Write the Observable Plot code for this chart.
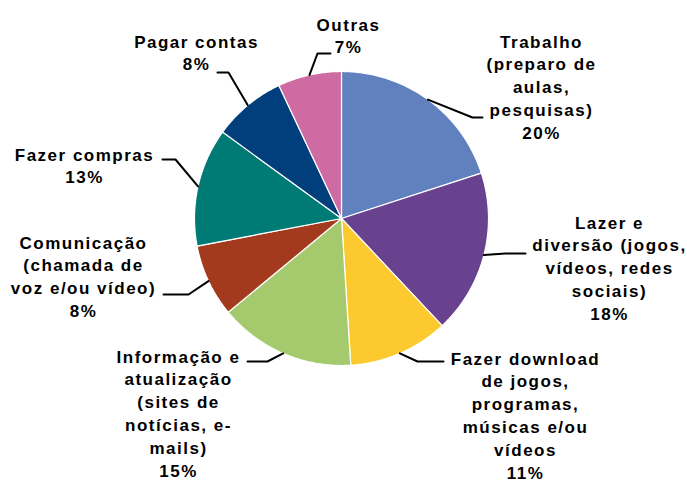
<!DOCTYPE html>
<html><head><meta charset="utf-8">
<script src="https://cdn.jsdelivr.net/npm/d3@7"></script>
<script src="https://cdn.jsdelivr.net/npm/@observablehq/plot@0.6"></script>
<style>html,body{margin:0;padding:0;background:#fff;overflow:hidden}</style>
</head><body><div id="chart"></div>
<script>
// ---- data ----
const categories = ["Trabalho", "Lazer", "Download", "Informação", "Comunicação", "Compras", "Pagar contas", "Outras"];
const values = [20, 18, 11, 15, 8, 13, 8, 7];
const labelNames = [
  "Trabalho\n(preparo de\naulas,\npesquisas)",
  "Lazer e\ndiversão (jogos,\nvídeos, redes\nsociais)",
  "Fazer download\nde jogos,\nprogramas,\nmúsicas e/ou\nvídeos",
  "Informação e\natualização\n(sites de\nnotícias, e-\nmails)",
  "Comunicação\n(chamada de\nvoz e/ou vídeo)",
  "Fazer compras",
  "Pagar contas",
  "Outras"
];
const colors = ["#6080BE", "#68418F", "#FCCA2F", "#A5C96D", "#A33A1D", "#007A74", "#003F7C", "#CF6BA3"];

// ---- layout (pixel space of the plot) ----
const cx = 341, cy = 218, R = 147;
const labelPos = [ // center x, first-line center y
  [541, 42], [609, 223], [525, 359], [178, 357], [83, 243], [84, 155], [196, 42], [348, 25]
];
const leaderBends = [ // elbow then end
  [[472, 117], [482, 117]],
  [[505, 253], [525, 253]],
  [[417, 361], [443, 361]],
  [[267, 361], [247, 361]],
  [[188, 294], [163, 294]],
  [[175, 159], [162, 159]],
  [[228, 72], [217, 72]],
  [[317, 53], [330, 53]]
];

const arcs = d3.pie().sort(null).value(d => d)(values);
const px = a => cx + R * Math.sin(a);
const py = a => cy - R * Math.cos(a);

const slicePts = [];
arcs.forEach((a, i) => {
  const name = categories[i];
  slicePts.push({name, x: cx, y: cy});
  const n = Math.max(4, Math.ceil((a.endAngle - a.startAngle) / 0.01));
  for (let k = 0; k <= n; k++) {
    const t = a.startAngle + (a.endAngle - a.startAngle) * k / n;
    slicePts.push({name, x: px(t), y: py(t)});
  }
});

const leaderPts = [];
arcs.forEach((a, i) => {
  const m = (a.startAngle + a.endAngle) / 2;
  const name = categories[i];
  leaderPts.push({name, x: px(m), y: py(m)});
  leaderBends[i].forEach(([x, y]) => leaderPts.push({name, x, y}));
});

const labelData = categories.map((c, i) => ({
  name: c,
  x: labelPos[i][0],
  y: labelPos[i][1] - 11,
  text: labelNames[i] + "\n" + values[i] + "%"
}));

const chart = Plot.plot({
  width: 687, height: 484,
  margin: 0,
  style: {fontFamily: "'Liberation Sans', Arial, sans-serif", letterSpacing: "1.5px", background: "#fff"},
  x: {domain: [0, 687], range: [0, 687], axis: null},
  y: {domain: [0, 484], range: [0, 484], axis: null},
  color: {domain: categories, range: colors},
  marks: [
    Plot.line(slicePts, {x: "x", y: "y", z: "name", fill: "name", stroke: "white", strokeWidth: 1.2, curve: "linear-closed"}),
    Plot.line(leaderPts, {x: "x", y: "y", z: "name", stroke: "black", strokeWidth: 2}),
    Plot.text(labelData, {x: "x", y: "y", text: "text", lineAnchor: "top", textAnchor: "middle", lineHeight: 1.34, fontSize: 17, fontWeight: "bold", fill: "black"})
  ]
});
document.getElementById("chart").appendChild(chart);
</script>
</body></html>
